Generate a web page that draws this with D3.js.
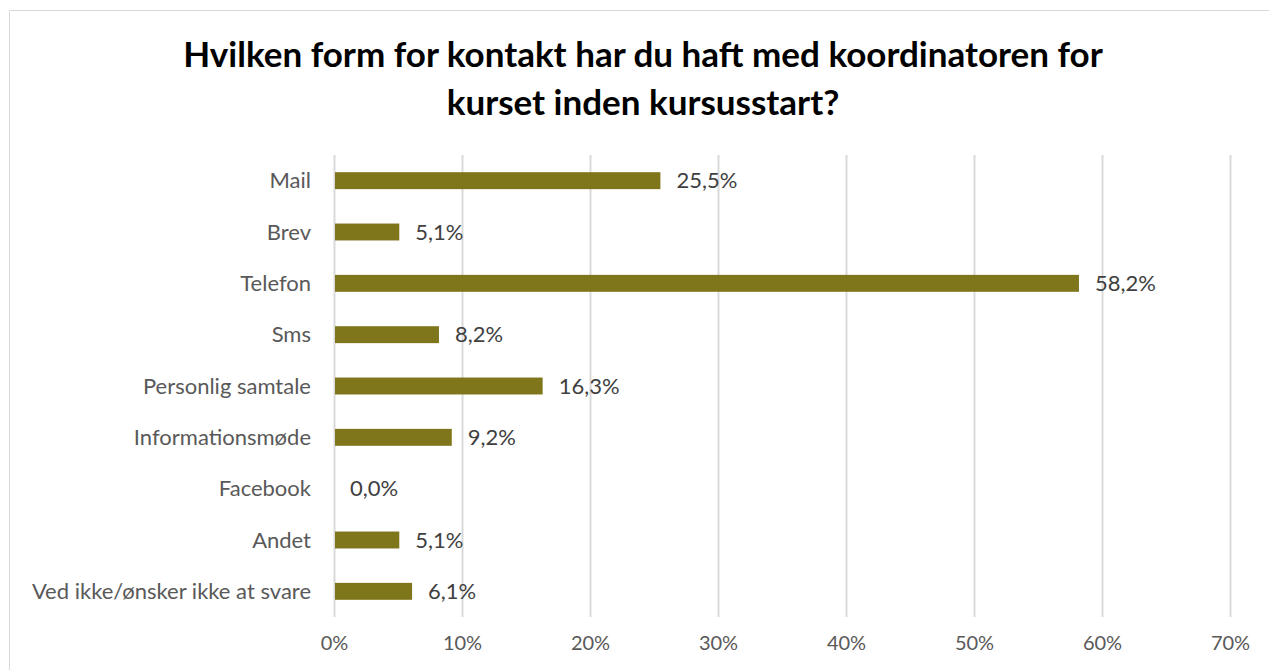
<!DOCTYPE html>
<html>
<head>
<meta charset="utf-8">
<script src="https://cdn.jsdelivr.net/npm/d3@7"></script>
<style>
  html, body { margin: 0; padding: 0; background: #fff; }
  svg { display: block; }
  text { font-family: Lato, "Open Sans", sans-serif; }
</style>
</head>
<body>
<svg id="chart" width="1269" height="670"></svg>
<script>
// Survey answers: share of respondents per contact form
const categories = ["Mail", "Brev", "Telefon", "Sms", "Personlig samtale",
  "Informationsmøde", "Facebook", "Andet", "Ved ikke/ønsker ikke at svare"];
const values = [25.5, 5.1, 58.2, 8.2, 16.3, 9.2, 0.0, 5.1, 6.1];
const tickValues = [0, 10, 20, 30, 40, 50, 60, 70];
const titleLines = ["Hvilken form for kontakt har du haft med koordinatoren for",
  "kurset inden kursusstart?"];

const svg = d3.select("#chart");
const W = 1269, H = 670;
const labelSize = 22;

// outer chart frame (top and left edges visible)
svg.append("path")
  .attr("d", `M9.5,${H} V10.5 H${W}`)
  .attr("fill", "none")
  .attr("stroke", "#d9d9d9")
  .attr("stroke-width", 1);

const x = d3.scaleLinear().domain([0, 70]).range([334, 1230]);
const y = d3.scaleBand().domain(categories).range([155, 617]).paddingInner(0.67).paddingOuter(0.335);

// vertical gridlines
svg.append("g").selectAll("line").data(tickValues).join("line")
  .attr("x1", d => x(d) + 0.5).attr("x2", d => x(d) + 0.5)
  .attr("y1", 155).attr("y2", 617)
  .attr("stroke", "#d9d9d9").attr("stroke-width", 2);

// bars
svg.append("g").selectAll("rect").data(values).join("rect")
  .attr("x", x(0) + 1)
  .attr("y", (d, i) => y(categories[i]))
  .attr("width", d => Math.max(0, x(d) - x(0) - 1))
  .attr("height", y.bandwidth())
  .attr("fill", "#7f761b");

const fmt = v => v.toFixed(1).replace(".", ",") + "%";

// value labels
svg.append("g").selectAll("text").data(values).join("text")
  .attr("x", d => x(d) + 16)
  .attr("y", (d, i) => y(categories[i]) + y.bandwidth() / 2)
  .attr("dy", "0.35em")
  .attr("font-size", labelSize)
  .attr("fill", "#404040")
  .text(fmt);

// category labels
svg.append("g").selectAll("text").data(categories).join("text")
  .attr("x", 311)
  .attr("y", d => y(d) + y.bandwidth() / 2)
  .attr("dy", "0.35em")
  .attr("text-anchor", "end")
  .attr("font-size", labelSize)
  .attr("fill", "#595959")
  .text(d => d);

// x axis tick labels
const xAxis = d3.axisBottom(x).tickValues(tickValues).tickFormat(d => d + "%").tickSize(0).tickPadding(0);
const gx = svg.append("g").attr("transform", "translate(0,643)").call(xAxis);
gx.select(".domain").remove();
gx.selectAll("text")
  .attr("font-family", "Lato, 'Open Sans', sans-serif")
  .attr("font-size", 20)
  .attr("fill", "#595959")
  .attr("dy", "0.35em")
  .attr("y", 0);

// title
svg.append("g").selectAll("text").data(titleLines).join("text")
  .attr("x", 643)
  .attr("y", (d, i) => 67 + i * 48)
  .attr("text-anchor", "middle")
  .attr("font-size", 35)
  .attr("font-weight", "bold")
  .attr("fill", "#000")
  .text(d => d);
</script>
</body>
</html>
